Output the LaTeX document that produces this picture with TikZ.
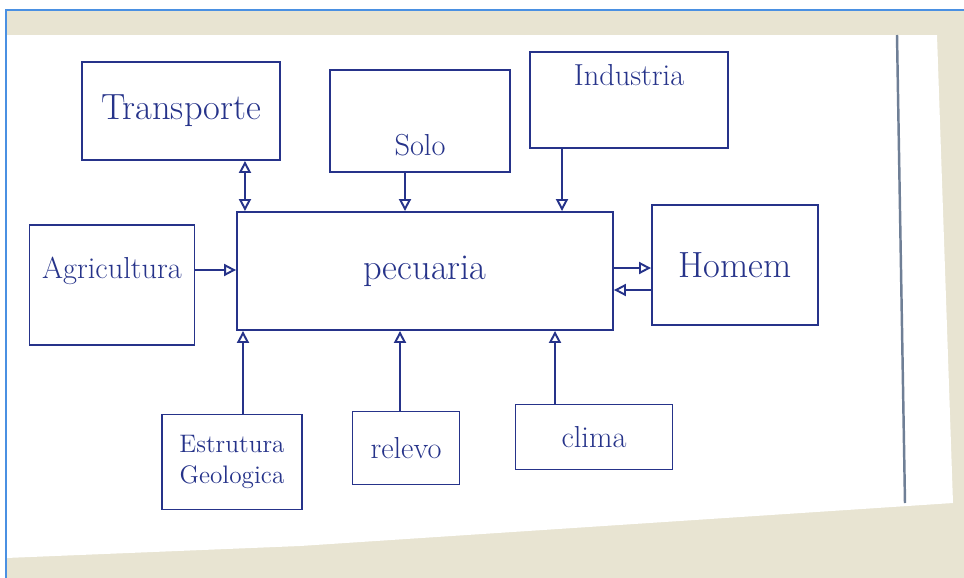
\documentclass[tikz,border=0pt]{standalone}
\usepackage{xcolor}
\usepackage{tikz}
\usetikzlibrary{arrows.meta, positioning, calc}
\definecolor{inkBlue}{HTML}{26338A}
\definecolor{deskBeige}{HTML}{E8E4D2}
\definecolor{frameBlue}{HTML}{4A90E2}
\definecolor{edgeGray}{HTML}{6F7F96}
\tikzset{
    box_ink/.style={
        rectangle, draw=inkBlue, line width=1.1pt, text=inkBlue,
        align=center, font=\LARGE, inner sep=3pt
    },
    link_arrow/.style={
        -{Triangle[open, length=2.4mm, width=2.4mm]}, draw=inkBlue, line width=1.1pt
    },
    link_both/.style={
        {Triangle[open, length=2.4mm, width=2.4mm]}-{Triangle[open, length=2.4mm, width=2.4mm]},
        draw=inkBlue, line width=1.1pt
    }
}
\begin{document}
\begin{tikzpicture}[x=0.02cm, y=-0.02cm]

    \useasboundingbox (0,0) rectangle (964,578);

    % Scanned sheet: desk, paper and page edge
    \fill[white] (0,0) rectangle (964,578);
    \fill[deskBeige] (6,10) rectangle (964,578);
    \fill[white] (6,35) -- (937,35) -- (953,503) -- (300,546) -- (6,558) -- cycle;
    \draw[edgeGray, line width=1.4pt] (897,35) -- (905,503);
    \draw[frameBlue, line width=0.8pt] (964,10) -- (6,10) -- (6,578);

    % Top row
    \node[box_ink, minimum width=3.96cm, minimum height=1.96cm, font=\huge] (transporte) at (181,111) {Transporte};
    \node[box_ink, minimum width=3.6cm, minimum height=2.04cm, text height=1.4cm] (solo) at (420,121) {Solo};
    \node[box_ink, minimum width=3.96cm, minimum height=1.92cm, text depth=1.0cm] (industria) at (629,100) {Industria};

    % Middle row
    \node[box_ink, minimum width=3.3cm, minimum height=2.4cm, text depth=0.7cm] (agricultura) at (112,285) {Agricultura};
    \node[box_ink, minimum width=7.52cm, minimum height=2.36cm, font=\huge] (pecuaria) at (425,271) {pecuaria};
    \node[box_ink, minimum width=3.32cm, minimum height=2.4cm, font=\huge] (homem) at (735,265) {Homem};

    % Bottom row
    \node[box_ink, minimum width=2.8cm, minimum height=1.9cm, font=\Large] (estrutura) at (232,462) {Estrutura\\Geologica};
    \node[box_ink, minimum width=2.14cm, minimum height=1.46cm] (relevo) at (406,448) {relevo};
    \node[box_ink, minimum width=3.14cm, minimum height=1.3cm] (clima) at (594,437) {clima};

    % Connectors from above
    \draw[link_both] ([xshift=1.28cm]transporte.south) -- ([xshift=1.28cm]transporte.south |- pecuaria.north);
    \draw[link_arrow] ([xshift=-0.3cm]solo.south) -- ([xshift=-0.3cm]solo.south |- pecuaria.north);
    \draw[link_arrow] ([xshift=-1.34cm]industria.south) -- ([xshift=-1.34cm]industria.south |- pecuaria.north);

    % Connectors left and right
    \draw[link_arrow] ([yshift=0.3cm]agricultura.east) -- ([yshift=0.3cm]agricultura.east -| pecuaria.west);
    \draw[link_arrow] ([yshift=0.06cm]pecuaria.east) -- ([yshift=0.06cm]pecuaria.east -| homem.west);
    \draw[link_arrow] ([yshift=-0.38cm]pecuaria.east -| homem.west) -- ([yshift=-0.38cm]pecuaria.east);

    % Connectors from below
    \draw[link_arrow] ([xshift=0.22cm]estrutura.north) -- ([xshift=0.22cm]estrutura.north |- pecuaria.south);
    \draw[link_arrow] ([xshift=-0.12cm]relevo.north) -- ([xshift=-0.12cm]relevo.north |- pecuaria.south);
    \draw[link_arrow] ([xshift=-0.78cm]clima.north) -- ([xshift=-0.78cm]clima.north |- pecuaria.south);

\end{tikzpicture}
\end{document}
